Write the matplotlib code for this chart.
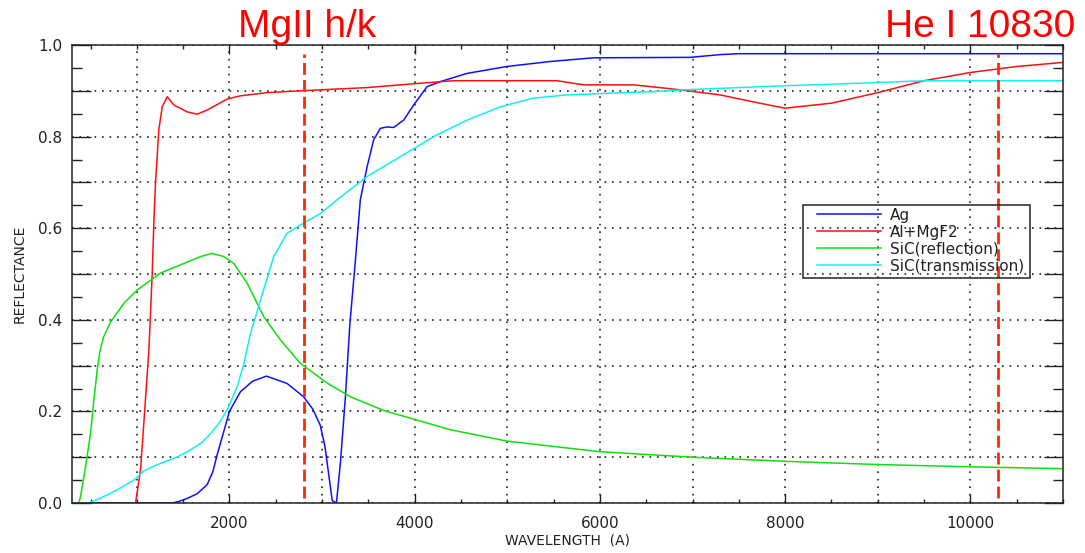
import matplotlib
matplotlib.use('Agg')
import matplotlib.pyplot as plt
from matplotlib.ticker import MultipleLocator, FuncFormatter
from matplotlib.patches import Rectangle

# reflectance / transmission curves (wavelength in A)
ag_x = [300, 1000, 1380, 1450, 1544, 1650, 1759, 1820, 1867, 2000, 2119, 2250, 2400, 2622,
        2800, 2900, 2980, 3030, 3070, 3110, 3155, 3198, 3252, 3300, 3360, 3413, 3486, 3557, 3629,
        3700, 3773, 3881, 3989, 4133, 4277, 4565, 4994, 5464, 5932, 6974, 7298, 7500, 11000]
ag_y = [0, 0, 0, 0.003, 0.010, 0.020, 0.040, 0.068, 0.105, 0.200, 0.243, 0.266, 0.277, 0.261,
        0.232, 0.205, 0.170, 0.125, 0.065, 0.005, 0.0, 0.087, 0.232, 0.39, 0.53, 0.662, 0.734,
        0.793, 0.818, 0.821, 0.820, 0.836, 0.869, 0.909, 0.920, 0.938, 0.953, 0.964, 0.972,
        0.973, 0.979, 0.981, 0.981]

al_x = [300, 600, 900, 986, 1040, 1083, 1130, 1166, 1185, 1202, 1237, 1274, 1328, 1400,
        1544, 1651, 1759, 1975, 2119, 2407, 2766, 3486, 4025, 4420, 5535, 5823, 6363,
        6830, 7298, 7700, 8000, 8500, 9000, 9500, 10000, 10500, 11000]
al_y = [0, 0, 0, 0, 0.072, 0.196, 0.334, 0.50, 0.62, 0.70, 0.814, 0.865, 0.887, 0.869,
        0.854, 0.849, 0.858, 0.882, 0.889, 0.896, 0.900, 0.907, 0.916, 0.922, 0.922, 0.913, 0.913,
        0.903, 0.891, 0.874, 0.862, 0.873, 0.896, 0.922, 0.940, 0.953, 0.962]

sicr_x = [300, 374, 392, 446, 500, 536, 572, 600, 640, 716, 860, 1004, 1255, 1508, 1687, 1813,
          1938, 2047, 2191, 2370, 2550, 2766, 3054, 3306, 3665, 4025, 4385, 5000, 6000,
          7000, 8000, 9000, 10000, 11000]
sicr_y = [0, 0, 0.014, 0.079, 0.152, 0.225, 0.290, 0.330, 0.362, 0.395, 0.436, 0.465, 0.502,
          0.523, 0.538, 0.545, 0.538, 0.523, 0.480, 0.407, 0.356, 0.305, 0.262, 0.232, 0.202,
          0.181, 0.160, 0.135, 0.112, 0.100, 0.091, 0.084, 0.079, 0.075]

sict_x = [300, 482, 600, 716, 850, 967, 1075, 1200, 1328, 1450, 1579, 1700, 1800, 1900,
          1975, 2083, 2150, 2227, 2335, 2478, 2622, 2766, 2982, 3162, 3486, 3845, 4205,
          4565, 4924, 5284, 5644, 6003, 6543, 6902, 7262, 8000, 9000, 9500, 11000]
sict_y = [0, 0, 0.010, 0.021, 0.036, 0.050, 0.070, 0.082, 0.092, 0.102, 0.116, 0.132, 0.152,
          0.178, 0.203, 0.254, 0.30, 0.370, 0.443, 0.538, 0.589, 0.607, 0.632, 0.662, 0.713,
          0.756, 0.800, 0.836, 0.865, 0.884, 0.891, 0.894, 0.898, 0.902, 0.905, 0.911, 0.918,
          0.922, 0.922]

labels = ['Ag', 'Al+MgF2', 'SiC(reflection)', 'SiC(transmission)']
colors = ['#1010ff', '#ff1010', '#10e010', '#10f0f0']

# marked lines
line_x = [2800, 10300]
line_names = ['MgII h/k', 'He I 10830']

plt.rcParams['font.family'] = ['DejaVu Sans']

fig = plt.figure(figsize=(10.85, 5.53), dpi=100)
ax = fig.add_axes([72 / 1085, 50 / 553, 991 / 1085, 458 / 553])

series = [(ag_x, ag_y), (al_x, al_y), (sicr_x, sicr_y), (sict_x, sict_y)]
for (xs, ys), lab, c in zip(series, labels, colors):
    ax.plot(xs, ys, color=c, lw=1.1, label=lab)

for lx in line_x:
    ax.plot([lx, lx], [0.01, 0.98], color='#ff2a00', lw=2.0, dashes=(4.3, 1.8))

ax.set_xlim(300, 11000)
ax.set_ylim(0, 1.0)

# dotted grid, every 1000 A and every 0.1
for gx in range(1000, 11000, 1000):
    ax.axvline(gx, color='#222222', lw=1.2, ls=(0, (1, 3.5)), zorder=0)
ax.yaxis.set_major_locator(MultipleLocator(0.1))
ax.yaxis.set_minor_locator(MultipleLocator(0.05))
ax.yaxis.set_major_formatter(FuncFormatter(lambda v, p: f'{v:.1f}' if round(v * 10) % 2 == 0 else ''))
ax.grid(axis='y', color='#222222', lw=1.2, ls=(0, (1, 3.5)), zorder=0)
ax.set_axisbelow(True)

ax.xaxis.set_major_locator(MultipleLocator(2000))
ax.xaxis.set_minor_locator(MultipleLocator(500))

ax.tick_params(axis='both', which='both', direction='in', top=True, right=True,
               colors='#222222', labelsize=11, width=1.0)
ax.tick_params(axis='y', which='major', length=13.5, pad=7)
ax.tick_params(axis='y', which='minor', length=7)
ax.tick_params(axis='x', which='major', length=6.5, pad=9)
ax.tick_params(axis='x', which='minor', length=3)
for s in ax.spines.values():
    s.set_linewidth(1.1)
    s.set_color('#222222')

ax.set_xlabel('WAVELENGTH  (A)', fontsize=10, color='#222222', labelpad=2)
ax.set_ylabel('REFLECTANCE', fontsize=10, color='#222222', labelpad=8)

# legend with a separate frame box
ax.add_patch(Rectangle((0.7376, 0.4913), 0.229, 0.1594, transform=ax.transAxes,
                       fill=False, ec='#222222', lw=1.1, zorder=5))
ax.legend(loc='upper left', bbox_to_anchor=(0.7518, 0.645), frameon=False,
          borderpad=0, borderaxespad=0, labelspacing=0.13, handlelength=4.2,
          handletextpad=0.55, fontsize=11, labelcolor='#222222')

fig.text(238 / 1085, 1 - 37 / 553, line_names[0], ha='left', va='baseline',
         fontsize=28, color='#ff0000', family='Liberation Sans')
fig.text(1075 / 1085, 1 - 37 / 553, line_names[1], ha='right', va='baseline',
         fontsize=28, color='#ff0000', family='Liberation Sans')

fig.savefig('out.png', dpi=100)
